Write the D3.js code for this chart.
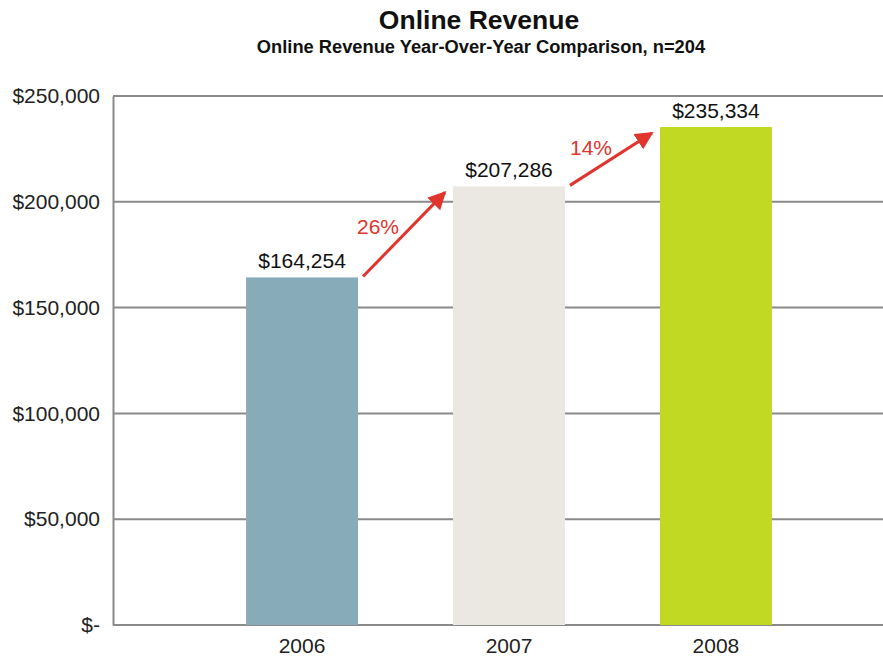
<!DOCTYPE html>
<html>
<head>
<meta charset="utf-8">
<script src="https://cdn.jsdelivr.net/npm/d3@7/dist/d3.min.js"></script>
<style>
  html, body { margin: 0; padding: 0; background: #fff; }
  svg { display: block; font-family: "Liberation Sans", Arial, sans-serif; }
</style>
</head>
<body>
<svg id="chart" width="883" height="657"></svg>
<script>
// Data
const years = ["2006", "2007", "2008"];
const revenue = [164254, 207286, 235334];
const barColors = ["#87abb8", "#ebe8e1", "#c1d923"];
const growthLabels = ["26%", "14%"];
const yTicks = [0, 50000, 100000, 150000, 200000, 250000];

const svg = d3.select("#chart");
const W = 883, H = 657;
const plot = { left: 113, right: 905, top: 96, bottom: 625 };

const x = d3.scaleBand()
  .domain(years)
  .range([plot.left, plot.right])
  .paddingInner(0.459)
  .paddingOuter(0.643);

const y = d3.scaleLinear()
  .domain([0, 250000])
  .range([plot.bottom, plot.top]);

const money = d3.format(",");
const tickFmt = v => v === 0 ? "$-" : "$" + money(v);

// Titles
svg.append("text")
  .attr("x", 479).attr("y", 29)
  .attr("text-anchor", "middle")
  .attr("font-size", 26.5).attr("font-weight", "bold").attr("fill", "#111")
  .text("Online Revenue");
svg.append("text")
  .attr("x", 481).attr("y", 53)
  .attr("text-anchor", "middle")
  .attr("font-size", 18.3).attr("font-weight", "bold").attr("fill", "#111")
  .text("Online Revenue Year-Over-Year Comparison, n=204");

// Gridlines
svg.append("g")
  .selectAll("line")
  .data(yTicks)
  .join("line")
  .attr("x1", plot.left).attr("x2", W)
  .attr("y1", d => y(d)).attr("y2", d => y(d))
  .attr("stroke", "#8a8a8a").attr("stroke-width", 2);

// Y axis
const yAxis = svg.append("g")
  .attr("transform", `translate(${plot.left},0)`)
  .call(d3.axisLeft(y).tickValues(yTicks).tickFormat(tickFmt).tickSize(0).tickPadding(13));
yAxis.select(".domain").attr("stroke", "#8a8a8a").attr("stroke-width", 2);
yAxis.selectAll("text")
  .attr("font-size", 21).attr("fill", "#222")
  .attr("font-family", "\"Liberation Sans\", Arial, sans-serif");

// Bars
svg.append("g")
  .selectAll("rect")
  .data(years)
  .join("rect")
  .attr("x", d => x(d))
  .attr("width", x.bandwidth())
  .attr("y", (d, i) => y(revenue[i]))
  .attr("height", (d, i) => y(0) - y(revenue[i]))
  .attr("fill", (d, i) => barColors[i]);

// Value labels
svg.append("g")
  .selectAll("text")
  .data(years)
  .join("text")
  .attr("x", d => x(d) + x.bandwidth() / 2)
  .attr("y", (d, i) => y(revenue[i]) - 9)
  .attr("text-anchor", "middle")
  .attr("font-size", 21).attr("fill", "#111")
  .text((d, i) => "$" + money(revenue[i]));

// X axis labels
svg.append("g")
  .selectAll("text")
  .data(years)
  .join("text")
  .attr("x", d => x(d) + x.bandwidth() / 2)
  .attr("y", 653)
  .attr("text-anchor", "middle")
  .attr("font-size", 21).attr("fill", "#222")
  .text(d => d);

// Growth arrows between consecutive years
const red = "#e0342d";
svg.append("defs").append("marker")
  .attr("id", "head")
  .attr("viewBox", "0 0 10 10")
  .attr("refX", 9).attr("refY", 5)
  .attr("markerWidth", 6).attr("markerHeight", 6)
  .attr("markerUnits", "strokeWidth")
  .attr("orient", "auto")
  .append("path")
  .attr("d", "M0,0 L10,5 L0,10 Z")
  .attr("fill", red);

const arrows = growthLabels.map((lab, i) => ({
  lab,
  x1: x(years[i]) + x.bandwidth() + 5,
  y1: y(revenue[i]) - 1,
  x2: x(years[i + 1]) - 8,
  y2: y(revenue[i + 1]) + 6
}));

svg.append("g")
  .selectAll("line")
  .data(arrows)
  .join("line")
  .attr("x1", d => d.x1).attr("y1", d => d.y1)
  .attr("x2", d => d.x2).attr("y2", d => d.y2)
  .attr("stroke", red).attr("stroke-width", 3)
  .attr("marker-end", "url(#head)");

svg.append("g")
  .selectAll("text")
  .data(arrows)
  .join("text")
  .attr("x", (d, i) => i === 0 ? d.x1 - 6 : d.x1)
  .attr("y", (d, i) => i === 0 ? d.y1 - 42 : d.y2 + 22)
  .attr("font-size", 21).attr("fill", red)
  .text(d => d.lab);
</script>
</body>
</html>
